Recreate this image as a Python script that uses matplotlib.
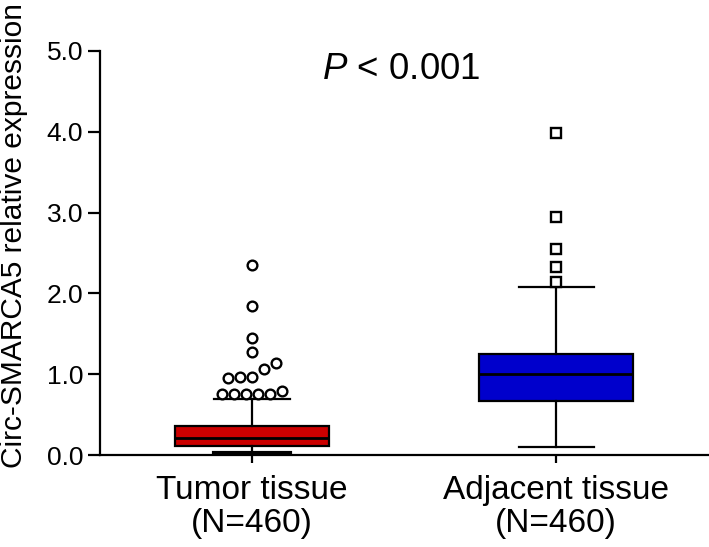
import matplotlib
matplotlib.use("Agg")
import matplotlib.pyplot as plt
import numpy as np

plt.rcParams['font.family'] = ['Liberation Sans', 'DejaVu Sans']
plt.rcParams['mathtext.fontset'] = 'custom'
plt.rcParams['mathtext.it'] = 'Liberation Sans:italic'
plt.rcParams['mathtext.rm'] = 'Liberation Sans'

# Data
groups = ["Tumor tissue\n(N=460)", "Adjacent tissue\n(N=460)"]
q1 = [0.11, 0.67]
medians = [0.21, 1.00]
q3 = [0.36, 1.25]
whisker_low = [0.03, 0.10]
whisker_high = [0.70, 2.08]
tumor_outliers = [0.75, 0.75, 0.75, 0.75, 0.75, 0.79, 0.95, 0.97, 0.97,
                  1.06, 1.14, 1.27, 1.45, 1.85, 2.35]
adjacent_outliers = [2.14, 2.33, 2.55, 2.95, 3.98]
outliers = [tumor_outliers, adjacent_outliers]
box_colors = ["#cc0000", "#0000cc"]
flier_markers = ["o", "s"]


def dodge(values, gap=0.1, step=0.04):
    # spread close-lying points side by side, like the GraphPad layout
    vals = np.sort(np.asarray(values))
    offsets = np.zeros(len(vals))
    start = 0
    for i in range(1, len(vals) + 1):
        if i == len(vals) or vals[i] - vals[i - 1] > gap:
            n = i - start
            offsets[start:i] = (np.arange(n) - (n - 1) / 2) * step
            start = i
    return vals, offsets


fig = plt.figure(figsize=(7.09, 5.47), dpi=100)
ax = fig.add_axes([0.141, 0.168, 0.859, 0.739])

stats = []
for i in range(len(groups)):
    stats.append(dict(med=medians[i], q1=q1[i], q3=q3[i],
                      whislo=whisker_low[i], whishi=whisker_high[i],
                      fliers=[], label=groups[i]))

bp = ax.bxp(stats, positions=[1, 2], widths=0.507, showfliers=False,
            patch_artist=True, capwidths=0.247,
            boxprops=dict(edgecolor="black", linewidth=1.6),
            medianprops=dict(color="black", linewidth=2),
            whiskerprops=dict(color="black", linewidth=1.6),
            capprops=dict(color="black", linewidth=1.6))
for patch, c in zip(bp["boxes"], box_colors):
    patch.set_facecolor(c)
bp["caps"][0].set_linewidth(3)

for i, vals in enumerate(outliers):
    y, dx = dodge(vals)
    ax.plot(i + 1 + dx, y, linestyle="none", marker=flier_markers[i],
            markersize=7 if flier_markers[i] == "o" else 6.5,
            markerfacecolor="white", markeredgecolor="black",
            markeredgewidth=1.7, zorder=3)

ax.set_xlim(0.5, 2.503)
ax.set_ylim(0, 5)
ax.set_yticks(np.arange(0, 5.01, 1.0))
ax.set_yticklabels([f"{v:.1f}" for v in np.arange(0, 5.01, 1.0)], fontsize=19)
ax.set_xticks([1, 2])
ax.set_xticklabels(groups, fontsize=24, linespacing=1.1)
ax.set_ylabel("Circ-SMARCA5 relative expression", fontsize=21.5)
ax.yaxis.set_label_coords(-0.118, 0.543)

for s in ["top", "right"]:
    ax.spines[s].set_visible(False)
for s in ["left", "bottom"]:
    ax.spines[s].set_linewidth(1.6)
ax.tick_params(axis="y", direction="out", width=1.6, length=9, pad=3)
ax.tick_params(axis="x", direction="out", width=1.6, length=6, pad=8)

ax.text(1.49, 4.655, r"$\mathit{P}$ < 0.001", fontsize=26.5, ha="center",
        va="baseline")

fig.savefig("out.png", dpi=100)
